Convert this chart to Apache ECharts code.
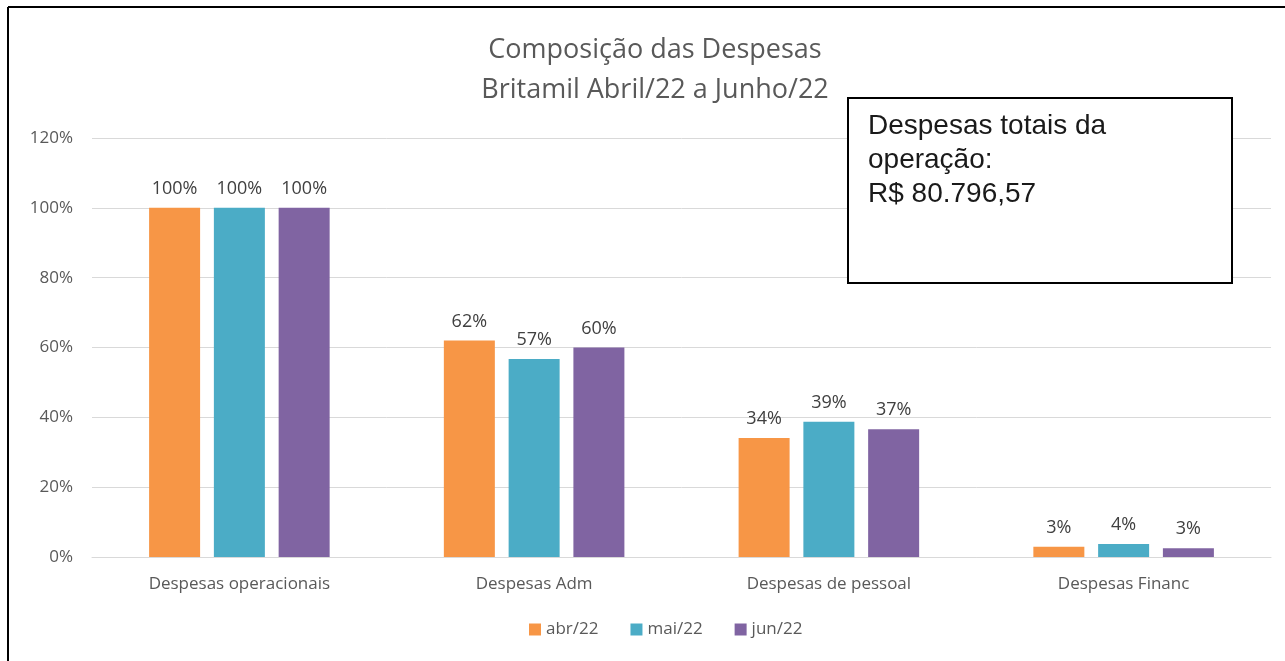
<!DOCTYPE html>
<html>
<head>
<meta charset="utf-8">
<script src="https://cdn.jsdelivr.net/npm/echarts@6/dist/echarts.min.js"></script>
<style>
  html, body { margin: 0; padding: 0; background: #fff; }
  #main { width: 1285px; height: 661px; }
</style>
</head>
<body>
<div id="main"></div>
<script>
var myChart = echarts.init(document.getElementById('main'));

// categorias e meses
var categorias = ['Despesas operacionais', 'Despesas Adm', 'Despesas de pessoal', 'Despesas Financ'];
var meses = ['abr/22', 'mai/22', 'jun/22'];
// valores (fração do total)
var abr22 = [1.00, 0.62, 0.341, 0.029];
var mai22 = [1.00, 0.567, 0.387, 0.037];
var jun22 = [1.00, 0.60, 0.366, 0.025];
var cores = ['#F79646', '#4BACC6', '#8064A2'];
var tituloLinhas = ['Composição das Despesas', 'Britamil Abril/22 a Junho/22'];
var caixaTexto = ['Despesas totais da', 'operação:', 'R$ 80.796,57'];

var fonte = '"Open Sans", "Noto Sans", sans-serif';

function serie(nome, dados, cor) {
    return {
        name: nome,
        type: 'bar',
        data: dados,
        barWidth: 51,
        barGap: '27%',
        itemStyle: { color: cor },
        label: {
            show: true,
            position: 'top',
            distance: 10,
            color: '#404040',
            fontSize: 18,
            fontFamily: fonte,
            formatter: function (p) {
                return Math.round(p.value * 100) + '%';
            }
        }
    };
}

var option = {
    animation: false,
    backgroundColor: '#fff',
    color: cores,
    title: {
        text: tituloLinhas.join('\n'),
        left: 650,
        textAlign: 'center',
        top: 25,
        textStyle: {
            fontFamily: fonte,
            fontSize: 27,
            fontWeight: 'normal',
            color: '#595959',
            lineHeight: 40
        }
    },
    legend: {
        data: meses,
        bottom: 18,
        left: 524,
        itemWidth: 12,
        itemHeight: 12,
        itemGap: 32,
        icon: 'rect',
        textStyle: { fontFamily: fonte, fontSize: 17, color: '#595959' }
    },
    grid: { left: 92, right: 14, top: 138, bottom: 104 },
    xAxis: {
        type: 'category',
        data: categorias,
        axisLine: { lineStyle: { color: '#d9d9d9', width: 1 } },
        axisTick: { show: false },
        axisLabel: { fontFamily: fonte, fontSize: 17, color: '#595959', margin: 19 }
    },
    yAxis: {
        type: 'value',
        min: 0,
        max: 1.2,
        interval: 0.2,
        axisLine: { show: false },
        axisTick: { show: false },
        splitLine: { lineStyle: { color: '#d9d9d9', width: 1 } },
        axisLabel: {
            fontFamily: fonte,
            fontSize: 17,
            color: '#595959',
            margin: 19,
            formatter: function (v) { return Math.round(v * 100) + '%'; }
        }
    },
    graphic: [
        // moldura (topo e esquerda)
        { type: 'line', shape: { x1: 8, y1: 7, x2: 1285, y2: 7 }, style: { stroke: '#000', lineWidth: 2 } },
        { type: 'line', shape: { x1: 8, y1: 7, x2: 8, y2: 661 }, style: { stroke: '#000', lineWidth: 2 } },
        // caixa de texto
        {
            type: 'rect',
            shape: { x: 848, y: 98, width: 384, height: 185 },
            style: { fill: '#fff', stroke: '#000', lineWidth: 2 },
            z: 100
        },
        {
            type: 'text',
            x: 868,
            y: 109,
            z: 101,
            style: {
                text: caixaTexto.join('\n'),
                font: '28px "Liberation Sans", Arial, sans-serif',
                fill: '#1a1a1a',
                lineHeight: 34
            }
        }
    ],
    series: [
        serie(meses[0], abr22, cores[0]),
        serie(meses[1], mai22, cores[1]),
        serie(meses[2], jun22, cores[2])
    ]
};

myChart.setOption(option);
</script>
</body>
</html>
